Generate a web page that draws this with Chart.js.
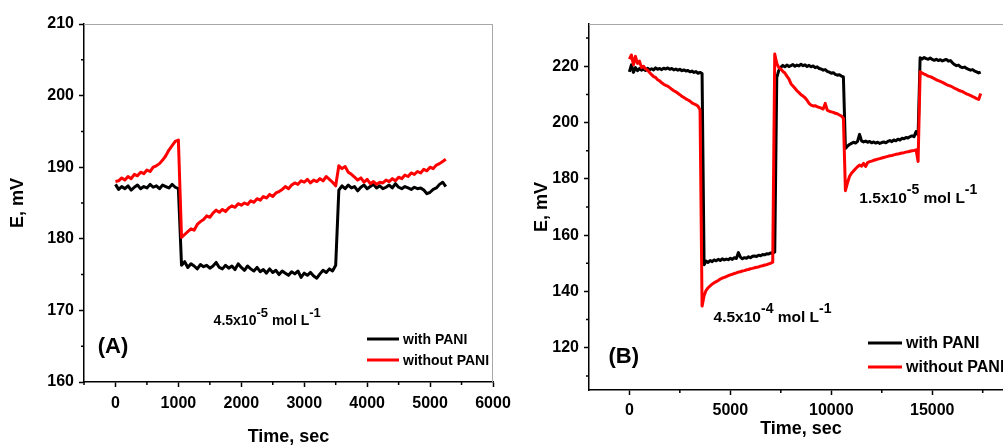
<!DOCTYPE html>
<html><head><meta charset="utf-8">
<script src="https://cdn.jsdelivr.net/npm/chart.js@4/dist/chart.umd.min.js"></script>
<style>
html,body{margin:0;padding:0;background:#fff;overflow:hidden;width:1003px;height:446px;position:relative}
#ca{position:absolute;left:0;top:0}
#cb{position:absolute;left:505px;top:0}
</style></head><body>
<canvas id="ca" width="520" height="446"></canvas>
<canvas id="cb" width="540" height="446"></canvas>
<script>
// ---------- DATA ----------
const seriesNames = ['with PANI', 'without PANI'];
// tick labels
const xTicksA = [0, 1000, 2000, 3000, 4000, 5000, 6000];
const yTicksA = [160, 170, 180, 190, 200, 210];
const xTicksB = [0, 5000, 10000, 15000];
const yTicksB = [120, 140, 160, 180, 200, 220];
// Panel A: sampled every 50 s from 0 to 5250 s
const tStepA = 50;
const withPaniA = [
 187.6,186.9,187.3,187.0,187.4,186.8,187.2,187.5,187.0,187.3,187.1,187.6,187.2,187.4,187.0,187.5,187.3,187.1,187.6,187.2,187.0,
 176.3,176.8,176.0,176.5,176.2,175.8,176.4,176.1,176.3,175.9,176.2,176.7,176.0,175.8,176.3,175.9,176.2,175.7,176.5,176.0,
 175.6,176.2,175.8,175.5,176.0,175.4,175.7,175.2,175.8,175.3,175.6,175.0,175.5,175.2,174.9,175.4,175.1,175.5,174.6,175.2,
 174.9,175.3,174.8,174.5,175.1,175.6,175.3,175.8,175.5,176.3,
 186.8,187.4,187.0,187.5,187.1,187.3,186.7,187.2,187.5,187.0,187.3,187.6,187.1,187.4,187.0,187.2,187.5,187.1,187.7,187.2,
 187.0,187.3,187.1,186.9,187.2,187.0,187.1,186.8,186.3,186.5,186.9,187.1,187.6,187.9,187.3
];
const withoutPaniA = [
 188.0,188.1,188.5,188.2,188.7,188.4,189.0,188.8,189.3,189.1,189.6,189.4,190.0,190.2,190.5,191.0,191.6,192.4,193.0,193.6,193.8,
 180.2,180.6,181.0,181.4,181.2,182.0,182.4,182.7,183.2,183.0,183.6,184.0,183.7,184.1,183.8,184.3,184.6,184.4,184.9,184.7,
 185.0,184.8,185.3,185.1,185.6,185.4,185.9,185.7,186.2,185.9,186.4,186.6,186.9,187.3,187.0,187.5,187.8,187.6,188.1,187.9,
 188.3,187.8,188.2,188.0,188.4,188.1,188.7,188.3,187.9,187.4,
 190.2,189.8,190.1,189.3,189.0,188.6,188.2,188.5,187.9,188.3,187.7,188.0,187.6,187.9,187.8,188.2,188.0,188.4,188.1,188.6,
 188.4,188.9,188.7,189.2,189.0,189.4,189.2,189.7,189.5,190.0,189.8,190.3,190.5,190.8,191.1
];
// Panel B: sampled every 100 s from 0 to 17400 s
const tStepB = 100;
const withPaniB = [
 218.0,220.5,217.8,219.5,218.4,219.2,218.6,219.0,218.5,219.3,218.8,219.1,218.7,219.4,218.9,219.2,218.8,219.3,219.0,219.4,
 218.9,219.2,218.7,219.0,218.6,218.9,218.4,218.7,218.3,218.5,218.0,218.3,217.8,218.1,217.5,217.8,217.4,
 149.5,150.8,150.3,151.0,150.6,151.2,150.9,151.4,151.0,151.6,151.2,151.5,151.3,151.8,151.4,152.0,151.7,153.8,152.2,151.6,
 152.0,151.8,152.3,152.0,152.5,152.6,152.4,152.9,152.7,153.1,153.0,153.4,153.3,153.7,153.6,154.0,
 216.0,218.5,219.6,220.3,219.8,220.4,219.9,220.2,220.6,220.0,220.4,220.1,220.7,220.2,220.5,219.9,220.3,219.8,220.1,219.5,
 219.8,219.2,219.0,218.6,218.8,218.2,217.9,217.5,217.7,217.1,216.8,217.0,216.5,216.2,
 190.8,191.6,192.2,192.6,193.0,192.7,193.3,195.8,193.5,193.1,193.4,193.0,193.3,192.8,193.1,192.7,193.0,192.6,192.9,193.1,
 192.8,193.3,193.6,193.2,193.8,193.5,194.1,193.8,194.4,194.2,194.7,194.5,195.0,195.3,195.0,196.8,195.6,
 223.0,222.6,223.1,222.7,222.5,222.9,222.4,222.1,222.5,222.0,222.3,221.9,222.2,222.4,221.8,222.0,221.2,220.6,220.2,220.4,
 219.8,219.5,219.7,219.2,218.9,218.6,218.8,218.3,218.0,217.6,217.9
];
const withoutPaniB = [
 222.5,224.0,220.5,223.5,221.0,221.8,219.5,220.0,219.0,218.6,217.8,217.0,216.3,216.0,215.2,214.8,214.1,213.6,213.2,212.9,
 212.4,211.8,211.3,210.9,210.4,209.9,209.3,208.9,208.4,208.0,207.6,207.0,206.6,206.3,205.8,204.5,
 134.8,138.5,140.4,141.3,142.0,142.6,143.1,143.5,143.9,144.4,144.7,145.0,145.3,145.6,145.9,146.1,146.4,146.6,146.9,147.0,
 147.3,147.4,147.7,147.8,148.1,148.2,148.4,148.6,148.7,149.0,149.1,149.4,149.5,149.8,150.0,150.4,
 224.3,221.0,219.5,219.0,218.2,217.6,216.5,215.5,213.8,213.0,212.2,211.3,210.6,209.9,209.4,208.8,207.9,206.8,206.2,205.9,
 206.0,205.6,205.4,205.1,204.8,206.8,204.4,204.0,203.8,203.6,203.3,203.1,202.7,202.3,201.5,
 175.8,178.5,180.8,182.0,182.8,183.6,184.3,184.9,184.5,185.5,184.4,185.8,186.1,186.3,186.6,186.8,187.0,187.2,187.4,187.6,
 187.8,188.0,188.2,188.3,188.5,188.7,188.8,189.0,189.2,189.3,189.5,189.6,189.8,190.0,190.1,190.3,186.2,
 218.0,217.6,217.2,216.9,216.5,216.3,216.0,215.6,215.2,214.9,214.6,214.3,213.9,213.5,213.2,213.0,212.6,212.2,211.9,211.5,
 211.2,211.0,210.6,210.2,209.9,209.6,209.2,208.9,208.5,208.2,210.3
];

// ---------- STYLE ----------
const FAM = '"Liberation Sans",Arial,sans-serif';
const toPts = (arr, step) => arr.map((v, i) => ({x: i * step, y: v}));

function richText(ctx, parts, x, y, size, supSize, rise) {
  ctx.textBaseline = 'alphabetic';
  ctx.textAlign = 'left';
  let cx = x;
  parts.forEach(p => {
    ctx.font = 'bold ' + (p.sup ? supSize : size) + 'px ' + FAM;
    ctx.fillText(p.t, cx, p.sup ? y - rise : y);
    cx += ctx.measureText(p.t).width;
  });
}

function makePlugin(cfg) {
  return {
    id: 'decor' + cfg.key,
    afterDraw(chart) {
      const ctx = chart.ctx, a = chart.chartArea;
      const xs = chart.scales.x, ys = chart.scales.y;
      ctx.save();
      // gray top/right frame
      ctx.strokeStyle = '#a8a8a8'; ctx.lineWidth = 1;
      ctx.beginPath();
      ctx.moveTo(a.left, a.top + 0.5); ctx.lineTo(a.right, a.top + 0.5);
      ctx.moveTo(a.right - 0.5, a.top); ctx.lineTo(a.right - 0.5, a.bottom);
      ctx.stroke();
      // minor ticks
      ctx.strokeStyle = '#000'; ctx.lineWidth = 1.5;
      ctx.beginPath();
      for (let v = Math.ceil(xs.min / cfg.xMinor) * cfg.xMinor; v <= xs.max; v += cfg.xMinor) {
        if (v % cfg.xMajor === 0) continue;
        const px = xs.getPixelForValue(v);
        ctx.moveTo(px, a.bottom); ctx.lineTo(px, a.bottom + 3);
      }
      for (let v = Math.ceil(ys.min / cfg.yMinor) * cfg.yMinor; v <= ys.max; v += cfg.yMinor) {
        if (v % cfg.yMajor === 0) continue;
        const py = ys.getPixelForValue(v);
        ctx.moveTo(a.left, py); ctx.lineTo(a.left - 3, py);
      }
      ctx.stroke();
      // annotations
      ctx.fillStyle = '#000';
      cfg.notes.forEach(n => {
        const px = xs.getPixelForValue(n.x), py = ys.getPixelForValue(n.y);
        richText(ctx, n.parts, px, py, n.size, n.supSize, n.rise);
      });
      // panel letter
      ctx.font = 'bold ' + cfg.letter.size + 'px ' + FAM;
      ctx.textAlign = 'center'; ctx.textBaseline = 'middle';
      ctx.fillText(cfg.letter.t, xs.getPixelForValue(cfg.letter.x), ys.getPixelForValue(cfg.letter.y));
      // legend
      const L = cfg.legend;
      chart.data.datasets.forEach((ds, i) => {
        const y = L.y + i * L.gap;
        ctx.strokeStyle = ds.borderColor; ctx.lineWidth = 3;
        ctx.beginPath(); ctx.moveTo(L.x, y); ctx.lineTo(L.x + L.len, y); ctx.stroke();
        ctx.fillStyle = '#000';
        ctx.font = 'bold ' + L.size + 'px ' + FAM;
        ctx.textAlign = 'left'; ctx.textBaseline = 'middle';
        ctx.fillText(ds.label, L.x + L.len + 4, y + 1);
      });
      ctx.restore();
    }
  };
}

function axisOpts(o) {
  return {
    type: 'linear', position: o.pos, min: o.min, max: o.max,
    afterFit: s => { if (o.pos === 'left') s.width = o.size; else s.height = o.size; },
    afterBuildTicks: s => { s.ticks = o.ticks.map(v => ({value: v})); },
    border: {display: true, color: '#000', width: 1.5},
    grid: {display: true, drawOnChartArea: false, drawTicks: true, tickLength: 5, tickColor: '#000', tickWidth: 1.5},
    ticks: {color: '#000', padding: o.tpad, callback: v => String(v),
            font: {family: FAM, size: o.tsize, weight: 'bold'}, maxRotation: 0, autoSkip: false},
    title: {display: true, text: o.title, color: '#000',
            font: {family: FAM, size: 18, weight: 'bold', lineHeight: 1}, padding: o.titlePad}
  };
}

function makeChart(id, cfg) {
  return new Chart(document.getElementById(id), {
    type: 'line',
    data: {datasets: [
      {label: seriesNames[0], data: cfg.black, borderColor: '#000000', borderWidth: 3, borderJoinStyle: 'round', pointRadius: 0, tension: 0, order: 1},
      {label: seriesNames[1], data: cfg.red, borderColor: '#ff0000', borderWidth: 3, borderJoinStyle: 'round', pointRadius: 0, tension: 0, order: 0}
    ]},
    options: {
      responsive: false, animation: false, devicePixelRatio: 1,
      layout: {padding: cfg.pad},
      plugins: {legend: {display: false}, tooltip: {enabled: false}},
      scales: {x: axisOpts(cfg.x), y: axisOpts(cfg.y)}
    },
    plugins: [makePlugin(cfg)]
  });
}

makeChart('ca', {
  key: 'A',
  black: toPts(withPaniA, tStepA), red: toPts(withoutPaniA, tStepA),
  pad: {top: 24, right: 27, left: 0, bottom: 0},
  x: {pos: 'bottom', min: -500, max: 6000, ticks: xTicksA, size: 64, tsize: 16, tpad: 7, title: 'Time, sec', titlePad: {top: 0, bottom: 0}},
  y: {pos: 'left', min: 160, max: 210, ticks: yTicksA, size: 84, tsize: 16, tpad: 5, title: 'E, mV', titlePad: {top: 9, bottom: 0}},
  xMinor: 500, xMajor: 1000, yMinor: 5, yMajor: 10,
  notes: [{x: 1560, y: 167.9, size: 14, supSize: 13, rise: 8,
           parts: [{t: '4.5x10'}, {t: '-5', sup: true}, {t: ' mol L'}, {t: '-1', sup: true}]}],
  letter: {t: '(A)', x: -40, y: 164.9, size: 22},
  legend: {x: 367, y: 339, gap: 21, len: 32, size: 14}
});

makeChart('cb', {
  key: 'B',
  black: toPts(withPaniB, tStepB), red: toPts(withoutPaniB, tStepB),
  pad: {top: 24, right: 32, left: 0, bottom: 8},
  x: {pos: 'bottom', min: -2000, max: 19000, ticks: xTicksB, size: 48, tsize: 16, tpad: 6, title: 'Time, sec', titlePad: {top: 0, bottom: 0}},
  y: {pos: 'left', min: 105, max: 235, ticks: yTicksB, size: 84, tsize: 16, tpad: 5, title: 'E, mV', titlePad: {top: 28, bottom: 0}},
  xMinor: 2500, xMajor: 5000, yMinor: 10, yMajor: 20,
  notes: [
    {x: 4169, y: 129.2, size: 15.5, supSize: 14, rise: 9,
     parts: [{t: '4.5x10'}, {t: '-4', sup: true}, {t: ' mol L'}, {t: '-1', sup: true}]},
    {x: 11390, y: 171.4, size: 15.5, supSize: 14, rise: 9,
     parts: [{t: '1.5x10'}, {t: '-5', sup: true}, {t: ' mol L'}, {t: '-1', sup: true}]}
  ],
  letter: {t: '(B)', x: -282, y: 116.8, size: 22},
  legend: {x: 868 - 505, y: 343, gap: 24, len: 34, size: 16}
});
</script>
</body></html>
